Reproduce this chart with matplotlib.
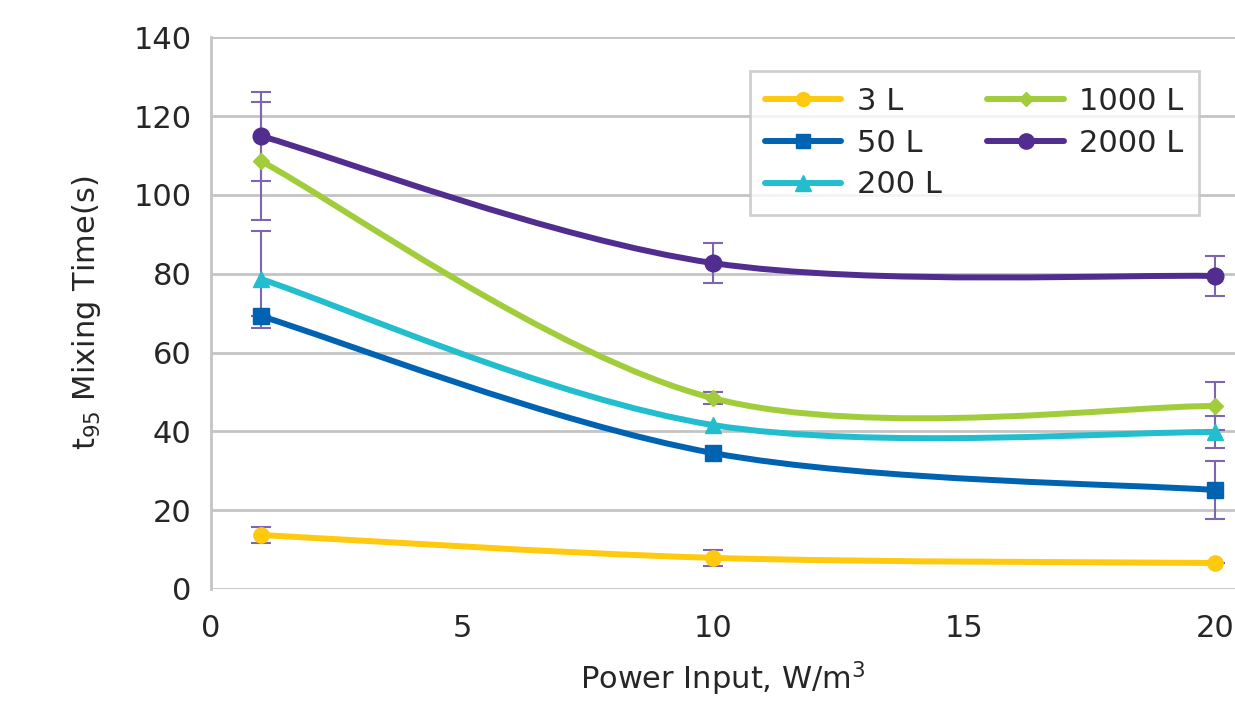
import numpy as np
import matplotlib
matplotlib.use('Agg')
import matplotlib.pyplot as plt
from matplotlib.path import Path
from matplotlib.patches import PathPatch
from matplotlib.lines import Line2D

plt.rcParams['font.family'] = ['DejaVu Sans']

power = [1, 10, 20]
labels = ['3 L', '50 L', '200 L', '1000 L', '2000 L']
t3 = [13.7, 7.9, 6.6]
t50 = [69.2, 34.5, 25.1]
t200 = [78.6, 41.6, 39.8]
t1000 = [108.5, 48.4, 46.4]
t2000 = [114.9, 82.7, 79.4]
err3 = [2.0, 2.0, 0.0]
err50 = [0.0, 0.0, 7.4]
err200 = [12.3, 0.0, 4.0]
err1000 = [15.0, 1.5, 6.0]
err2000 = [11.3, 5.0, 5.0]

series = [t3, t50, t200, t1000, t2000]
errors = [err3, err50, err200, err1000, err2000]
colors = ['#FFC90E', '#0063B1', '#22BECE', '#A2CD3A', '#512D8F']
markers = ['o', 's', '^', 'D', 'o']
msizes = [11, 11, 12, 8, 12]
errcol = '#7E66AE'


def smooth_path(x, y):
    # Excel-style smoothed line: cubic Bezier with Catmull-Rom tangents
    p = np.column_stack([x, y]).astype(float)
    pts = np.vstack([p[0], p, p[-1]])
    verts = [p[0]]
    codes = [Path.MOVETO]
    for i in range(1, len(pts) - 2):
        p0, p1, p2, p3 = pts[i - 1], pts[i], pts[i + 1], pts[i + 2]
        verts += [p1 + (p2 - p0) / 6, p2 - (p3 - p1) / 6, p2]
        codes += [Path.CURVE4] * 3
    return Path(verts, codes)


fig = plt.figure(figsize=(12.35, 7.02), dpi=100)
ax = fig.add_axes([0.1709, 0.161, 1.0 - 0.1709, 0.786])

for ys, es in zip(series, errors):
    ax.errorbar(power, ys, yerr=es, fmt='none', ecolor=errcol, elinewidth=1.5,
                capsize=7, capthick=1.5, zorder=2)
for ys, c, m, ms in zip(series, colors, markers, msizes):
    ax.add_patch(PathPatch(smooth_path(power, ys), facecolor='none', edgecolor=c,
                           lw=4.3, capstyle='round', zorder=3))
    ax.plot(power, ys, linestyle='none', marker=m, color=c, ms=ms, zorder=4)

ax.set_xlim(0, 20.4)
ax.set_ylim(0, 140)
ax.set_xticks([0, 5, 10, 15, 20])
ax.set_yticks(range(0, 141, 20))
ax.grid(axis='y', color='#C4C4C4', lw=2)
ax.set_axisbelow(True)
for s in ['top', 'right', 'bottom']:
    ax.spines[s].set_visible(False)
ax.spines['left'].set_color('#C4C4C4')
ax.spines['left'].set_linewidth(2)
ax.tick_params(length=0, labelsize=22, colors='#262626')
ax.tick_params(axis='x', pad=18)
ax.tick_params(axis='y', pad=14)

ax.set_xlabel('Power Input, W/m$^3$', fontsize=22, color='#262626', labelpad=12)
ax.set_ylabel('t$_{95}$ Mixing Time(s)', fontsize=22, color='#262626', labelpad=22)

handles = [Line2D([], [], color=c, marker=m, ms=ms - 1, lw=4.3, solid_capstyle='round')
           for c, m, ms in zip(colors, markers, msizes)]
leg = ax.legend(handles, labels, ncol=2,
                loc='upper left', bbox_to_anchor=(0.526, 0.938), fontsize=22,
                frameon=True, fancybox=False, edgecolor='#C4C4C4', handlelength=2.5,
                handletextpad=0.5, borderpad=0.5, labelspacing=0.42, columnspacing=1.5,
                borderaxespad=0)
leg.get_frame().set_linewidth(2)
for t in leg.get_texts():
    t.set_color('#262626')

fig.savefig('out.png', dpi=100)
